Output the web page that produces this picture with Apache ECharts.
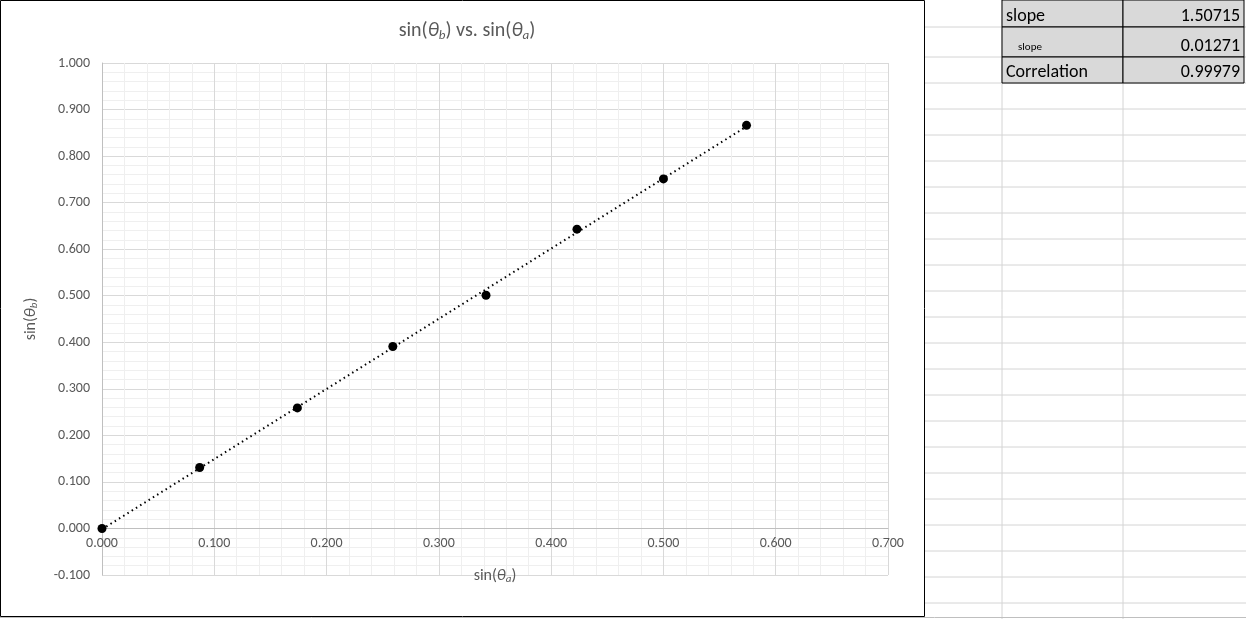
<!DOCTYPE html>
<html><head><meta charset="utf-8">
<script src="https://cdn.jsdelivr.net/npm/echarts@6/dist/echarts.min.js"></script>
<style>html,body{margin:0;padding:0;background:#fff}#c{width:1246px;height:619px}</style>
</head><body><div id="c"></div>
<script>
const sinA = [0.000, 0.087, 0.174, 0.259, 0.342, 0.423, 0.500, 0.574];
const sinB = [0.000, 0.131, 0.259, 0.391, 0.501, 0.643, 0.751, 0.866];
const xTicks = [0, 0.7, 0.1];
const yTicks = [-0.1, 1.0, 0.1];
const tableRows = [["slope","1.50715"],["slope","0.01271"],["Correlation","0.99979"]];

// least-squares trendline
const n = sinA.length;
const mx = sinA.reduce((a,b)=>a+b,0)/n, my = sinB.reduce((a,b)=>a+b,0)/n;
let sxy=0,sxx=0; for(let i=0;i<n;i++){sxy+=(sinA[i]-mx)*(sinB[i]-my);sxx+=(sinA[i]-mx)**2;}
const m = sxy/sxx, b0 = my-m*mx;
const xmin=Math.min(...sinA), xmax=Math.max(...sinA);
const trend=[[xmin,m*xmin+b0],[xmax,m*xmax+b0]];

const g=[];
const F='Calibri, Carlito, "Liberation Sans", "Open Sans", sans-serif';
for(let y=27;y<619;y+=26){ g.push({type:'line',shape:{x1:925,y1:y+(y>27?4:0),x2:1246,y2:y+(y>27?4:0)},style:{stroke:'#d4d4d4',lineWidth:1}}); }
[1002,1123].forEach(x=>g.push({type:'line',shape:{x1:x,y1:0,x2:x,y2:619},style:{stroke:'#d4d4d4',lineWidth:1}}));
const rowsY=[0,27,57,83];
for(let r=0;r<3;r++){
  g.push({type:'rect',shape:{x:1002,y:rowsY[r],width:121,height:rowsY[r+1]-rowsY[r]},style:{fill:'#d9d9d9',stroke:'#000',lineWidth:1}});
  g.push({type:'rect',shape:{x:1123,y:rowsY[r],width:121,height:rowsY[r+1]-rowsY[r]},style:{fill:'#d9d9d9',stroke:'#000',lineWidth:1}});
  const small = r===1;
  g.push({type:'text',x:small?1018:1006,y:small?rowsY[r+1]-4:rowsY[r+1]-2,style:{text:tableRows[r][0],fontSize:small?11:18,fontFamily:F,fill:'#000',textVerticalAlign:'bottom'}});
  g.push({type:'text',x:1240,y:rowsY[r+1]-2,style:{text:tableRows[r][1],fontSize:18,fontFamily:F,fill:'#000',textAlign:'right',textVerticalAlign:'bottom'}});
}
g.push({type:'rect',shape:{x:0.5,y:0.5,width:924,height:616},style:{fill:'none',stroke:'#000',lineWidth:1}});
g.push({type:'line',shape:{x1:0,y1:617.5,x2:1246,y2:617.5},style:{stroke:'#bfbfbf',lineWidth:1}});

const nameRich={i:{fontSize:16,fontStyle:'italic',color:'#595959',fontFamily:F},s:{fontSize:11,fontStyle:'italic',color:'#595959',fontFamily:F,padding:[8,0,0,0]}};
const chart=echarts.init(document.getElementById('c'));
chart.setOption({
  animation:false,
  title:{text:'sin({i|θ}{s|b}) vs. sin({i|θ}{s|a})',left:462,top:14,textAlign:'center',
    textStyle:{fontSize:20,fontWeight:'normal',color:'#595959',fontFamily:F,
      rich:{i:{fontSize:20,fontStyle:'italic',color:'#595959',fontFamily:F},s:{fontSize:13,fontStyle:'italic',color:'#595959',fontFamily:F,padding:[10,0,0,0]}}}},
  grid:{left:102,right:358,top:63,bottom:44,containLabel:false,outerBoundsMode:'none'},
  xAxis:{type:'value',min:xTicks[0],max:xTicks[1],interval:xTicks[2],position:'bottom',offset:-47,
    name:'sin({i|θ}{s|a})',nameLocation:'middle',nameGap:38,
    nameTextStyle:{fontSize:16,color:'#595959',fontFamily:F,rich:nameRich},
    axisLine:{onZero:false,lineStyle:{color:'#bfbfbf'}},axisTick:{show:false},
    axisLabel:{formatter:v=>v.toFixed(3),color:'#595959',fontSize:14,fontFamily:F,margin:8},
    splitLine:{lineStyle:{color:'#d9d9d9'}},minorTick:{show:false,splitNumber:5},minorSplitLine:{show:true,lineStyle:{color:'#efefef'}}},
  yAxis:{type:'value',min:yTicks[0],max:yTicks[1],interval:yTicks[2],
    name:'sin({i|θ}{s|b})',nameLocation:'middle',nameGap:62,
    nameTextStyle:{fontSize:16,color:'#595959',fontFamily:F,rich:nameRich},
    axisLine:{show:true,lineStyle:{color:'#bfbfbf'}},axisTick:{show:false},
    axisLabel:{formatter:v=>v.toFixed(3),color:'#595959',fontSize:14,fontFamily:F,margin:12},
    splitLine:{lineStyle:{color:'#d9d9d9'}},minorTick:{show:false,splitNumber:5},minorSplitLine:{show:true,lineStyle:{color:'#efefef'}}},
  series:[
    {type:'line',data:trend,symbol:'none',lineStyle:{color:'#000',width:2,type:[1.5,3.5]},z:2},
    {type:'scatter',data:sinA.map((x,i)=>[x,sinB[i]]),symbolSize:9,itemStyle:{color:'#000',opacity:1},z:3}
  ],
  graphic:g
});
</script></body></html>
